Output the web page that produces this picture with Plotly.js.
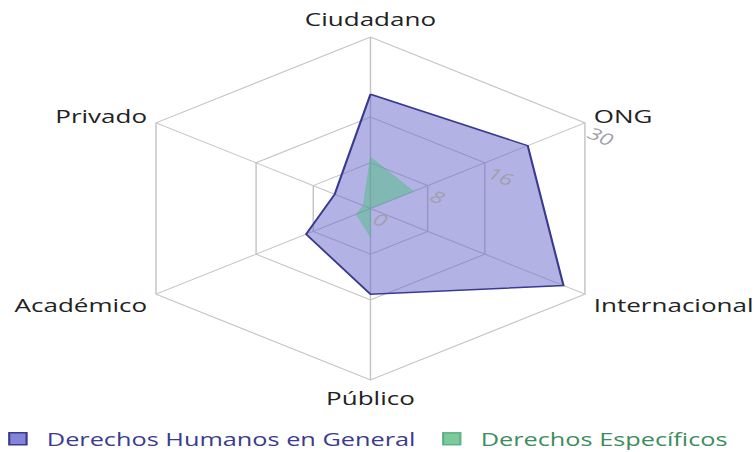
<!DOCTYPE html>
<html>
<head>
<meta charset="utf-8">
<script src="https://cdn.plot.ly/plotly-3.0.1.min.js"></script>
<style>
html,body{margin:0;padding:0;background:#fff;}
#wrap{width:756px;height:452px;overflow:hidden;position:relative;}
#plot{position:absolute;left:-11px;top:5px;width:560px;height:452px;transform:scaleX(1.445);transform-origin:0 0;}
</style>
</head>
<body>
<div id="wrap"><div id="plot"></div></div>
<script>
var categories = ['Ciudadano', 'ONG', 'Internacional', 'Público', 'Académico', 'Privado'];
var generalValues = [20, 22, 27, 15, 9, 5];
var especificosValues = [9, 6, 0, 5, 2, 1];
var radialTicks = [0, 8, 16, 30];
var seriesNames = ['Derechos Humanos en General', 'Derechos Específicos'];

function closeLoop(arr) { return arr.concat([arr[0]]); }

var purpleFill = 'rgba(102,102,204,0.5)';
var purpleLine = '#3a3a90';
var greenFill = 'rgba(80,190,130,0.5)';
var greenLine = 'rgba(70,170,115,0.8)';

var traces = [
  {
    type: 'scatterpolar',
    r: closeLoop(generalValues),
    theta: closeLoop(categories),
    name: seriesNames[0],
    fill: 'toself',
    fillcolor: purpleFill,
    line: {color: purpleLine, width: 1.5},
    mode: 'lines',
    showlegend: false,
    hoverinfo: 'skip'
  },
  {
    type: 'scatterpolar',
    r: closeLoop(especificosValues),
    theta: closeLoop(categories),
    name: seriesNames[1],
    fill: 'toself',
    fillcolor: greenFill,
    line: {color: 'rgba(80,190,130,0.5)', width: 0.5},
    mode: 'lines',
    showlegend: false,
    hoverinfo: 'skip'
  },
  {
    type: 'scatterpolar',
    r: [null],
    theta: [categories[0]],
    name: '<span style="color:#3b3b8e">' + seriesNames[0] + '</span>',
    mode: 'markers',
    marker: {symbol: 'square', size: 12, color: 'rgba(110,110,210,0.85)', line: {color: purpleLine, width: 1.5}},
    hoverinfo: 'skip'
  },
  {
    type: 'scatterpolar',
    r: [null],
    theta: [categories[0]],
    name: '<span style="color:#3d8c5e">' + seriesNames[1] + '</span>',
    mode: 'markers',
    marker: {symbol: 'square', size: 12, color: 'rgba(110,195,145,0.9)', line: {color: greenLine, width: 1.5}},
    hoverinfo: 'skip'
  }
];

var layout = {
  width: 560,
  height: 452,
  margin: {l: 0, r: 0, t: 0, b: 0},
  paper_bgcolor: '#fff',
  font: {family: 'Open Sans, Noto Sans, sans-serif', size: 17, color: '#222'},
  showlegend: true,
  legend: {
    orientation: 'h',
    x: 0, xanchor: 'left',
    y: 0.014, yanchor: 'middle',
    font: {size: 17.5},
    itemsizing: 'trace',
    traceorder: 'normal'
  },
  polar: {
    domain: {x: [0.1571, 0.7857], y: [0.148, 0.927]},
    gridshape: 'linear',
    bgcolor: 'rgba(0,0,0,0)',
    angularaxis: {
      direction: 'clockwise',
      rotation: 90,
      showline: true,
      linecolor: '#c4c4c4',
      linewidth: 1,
      gridcolor: '#c4c4c4',
      gridwidth: 1,
      ticks: 'outside',
      ticklen: 3,
      tickcolor: 'rgba(0,0,0,0)',
      tickfont: {size: 18, color: '#222'}
    },
    radialaxis: {
      range: [0, 30],
      angle: 30,
      tickvals: radialTicks,
      ticktext: radialTicks.map(String),
      tickangle: 60,
      side: 'clockwise',
      showline: false,
      ticks: '',
      gridcolor: '#c4c4c4',
      gridwidth: 1,
      tickfont: {size: 16, color: '#a0a0a8'}
    }
  }
};

Plotly.newPlot('plot', traces, layout, {displayModeBar: false, staticPlot: true});
</script>
</body>
</html>
